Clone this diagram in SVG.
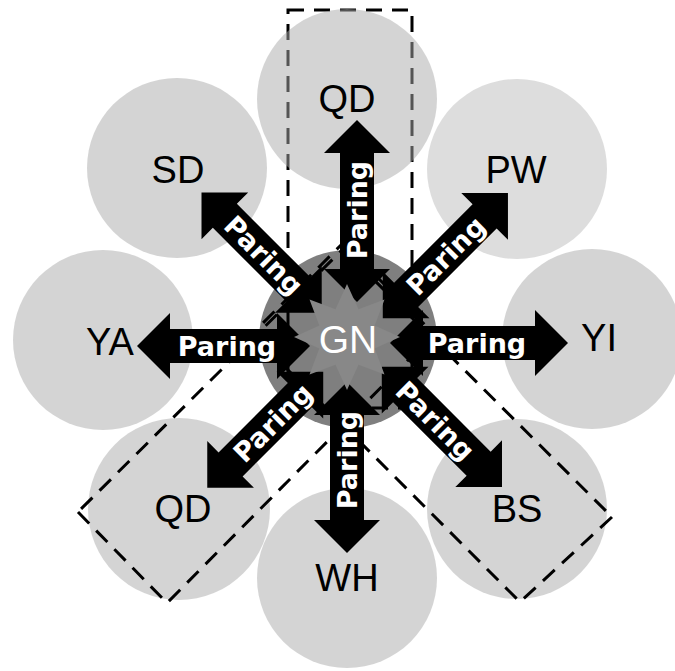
<svg xmlns="http://www.w3.org/2000/svg" width="675" height="671" viewBox="0 0 675 671">
<style>
.outer{fill:#a9a9a9;fill-opacity:0.5}
.dash{fill:none;stroke:#000;stroke-width:3;stroke-dasharray:16 10}
.arrow{fill:#000}
.lbl{font-family:"Liberation Sans",Arial,sans-serif;font-size:38px;fill:#000;text-anchor:middle}
.par{font-family:"DejaVu Sans",sans-serif;font-weight:bold;font-size:27px;fill:#fff;text-anchor:middle}
</style>
<rect width="675" height="671" fill="#fff"/>
<g id="group-vertical">
<rect class="dash" x="288" y="10" width="124" height="398"/>
</g>
<g id="node-QD-top"><circle class="outer" cx="347" cy="99" r="90"/><text class="lbl" x="347" y="112">QD</text></g>
<g id="node-SD"><circle class="outer" cx="177" cy="168" r="90"/><text class="lbl" x="178" y="183">SD</text></g>
<g id="node-PW"><circle class="outer" style="fill:#bcbcbc" cx="517" cy="169" r="90"/><text class="lbl" x="516" y="183">PW</text></g>
<g id="node-YA"><circle class="outer" cx="103" cy="340" r="90"/><text class="lbl" x="110" y="355">YA</text></g>
<g id="node-YI"><circle class="outer" cx="592" cy="339" r="90"/><text class="lbl" x="599" y="351">YI</text></g>
<g id="node-QD-bl"><circle class="outer" cx="179" cy="509" r="91"/><text class="lbl" x="183" y="522">QD</text></g>
<g id="node-BS"><circle class="outer" cx="517" cy="509" r="90"/><text class="lbl" x="517" y="522">BS</text></g>
<g id="node-WH"><circle class="outer" cx="347" cy="578" r="90"/><text class="lbl" x="347" y="591">WH</text></g>
<g id="node-GN-circle"><circle cx="348" cy="339" r="89" fill="#000" fill-opacity="0.5"/></g>
<g id="groups-diagonal">
<path class="dash" d="M78,512 L167,603 L434,334 L346,246 Z"/>
<path class="dash" d="M612,517 L520,602 L252,334 L340,246 Z"/>
</g>
<g id="connectors">
<path class="arrow" transform="translate(350,343)" d="M40,0 L73,-33 L73,-17 L185,-17 L185,-33 L218,0 L185,33 L185,17 L73,17 L73,33 Z"/>
<path class="arrow" transform="translate(350,346) rotate(180)" d="M40,0 L73,-33 L73,-17 L180,-17 L180,-33 L213,0 L180,33 L180,17 L73,17 L73,33 Z"/>
<path class="arrow" transform="translate(357,342) rotate(-90)" d="M40,0 L73,-33 L73,-17 L189,-17 L189,-33 L222,0 L189,33 L189,17 L73,17 L73,33 Z"/>
<path class="arrow" transform="translate(347,342) rotate(90)" d="M40,0 L73,-33 L73,-17 L178,-17 L178,-33 L211,0 L178,33 L178,17 L73,17 L73,33 Z"/>
<path class="arrow" transform="translate(350,341) rotate(225)" d="M40,0 L73,-33 L73,-17 L177,-17 L177,-33 L210,0 L177,33 L177,17 L73,17 L73,33 Z"/>
<path class="arrow" transform="translate(354.5,346.5) rotate(-45)" d="M40,0 L73,-33 L73,-17 L184,-17 L184,-33 L217,0 L184,33 L184,17 L73,17 L73,33 Z"/>
<path class="arrow" transform="translate(351.5,343.5) rotate(135)" d="M40,0 L73,-33 L73,-17 L171,-17 L171,-33 L204,0 L171,33 L171,17 L73,17 L73,33 Z"/>
<path class="arrow" transform="translate(353.5,338.5) rotate(45)" d="M40,0 L73,-33 L73,-17 L177,-17 L177,-33 L210,0 L177,33 L177,17 L73,17 L73,33 Z"/>
<text class="par" transform="translate(227,346)" y="10">Paring</text>
<text class="par" transform="translate(477,343)" y="10">Paring</text>
<text class="par" transform="translate(357,210) rotate(-90)" y="10">Paring</text>
<text class="par" transform="translate(347,460) rotate(-90)" y="10">Paring</text>
<text class="par" transform="translate(264,255) rotate(45)" y="10">Paring</text>
<text class="par" transform="translate(445.5,255.5) rotate(-45)" y="10">Paring</text>
<text class="par" transform="translate(272.5,422.5) rotate(-45)" y="10">Paring</text>
<text class="par" transform="translate(435.5,420.5) rotate(45)" y="10">Paring</text>
</g>
<g id="node-GN">
<polygon fill="#888888" points="347,284 358.5,309.3 384.5,299.5 374.7,325.5 400,337 374.7,348.5 384.5,374.5 358.5,364.7 347,390 335.5,364.7 309.5,374.5 319.3,348.5 294,337 319.3,325.5 309.5,299.5 335.5,309.3"/>
<text x="348" y="353" font-family="Liberation Sans,Arial,sans-serif" font-size="39" fill="#fff" text-anchor="middle">GN</text>
</g>
</svg>
